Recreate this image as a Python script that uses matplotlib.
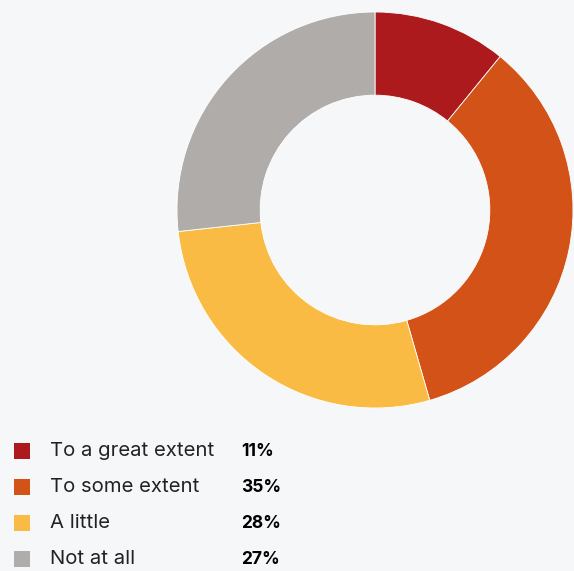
import matplotlib
matplotlib.use("Agg")
import matplotlib.pyplot as plt
from matplotlib.patches import Rectangle

categories = ["To a great extent", "To some extent", "A little", "Not at all"]
values = [11, 35, 28, 27]
labels = ["11%", "35%", "28%", "27%"]
colors = ["#ad1a1e", "#d35218", "#f9bb43", "#b0acaa"]
bg = "#f5f7f9"

W, H = 574, 571
fig = plt.figure(figsize=(W / 100, H / 100), dpi=100, facecolor=bg)

# donut axes: centre (375, 210) px, outer radius 198 px
cx, cy, r = 375, 210, 198
ax = fig.add_axes([(cx - r) / W, (H - cy - r) / H, 2 * r / W, 2 * r / H])
ax.set_facecolor(bg)
ax.pie(values, colors=colors, startangle=90, counterclock=False, radius=1,
       wedgeprops=dict(width=0.42, edgecolor="white", linewidth=0.6))
ax.set_xlim(-1, 1)
ax.set_ylim(-1, 1)
ax.set_aspect("equal")
ax.axis("off")

# legend rows
ys = [451, 487, 523, 559]
for cat, lab, col, y in zip(categories, labels, colors, ys):
    fig.patches.append(Rectangle((14 / W, (H - y - 8) / H), 16 / W, 16 / H,
                                 transform=fig.transFigure, facecolor=col,
                                 edgecolor="none"))
    fig.text(50 / W, (H - y) / H, cat, ha="left", va="center",
             fontsize=14.6, family="Inter", color="#222222")
    fig.text(241 / W, (H - y) / H, lab, ha="left", va="center",
             fontsize=12.5, family="Inter", fontweight="bold", color="#000000")

fig.savefig("out.png", dpi=100, facecolor=bg)
